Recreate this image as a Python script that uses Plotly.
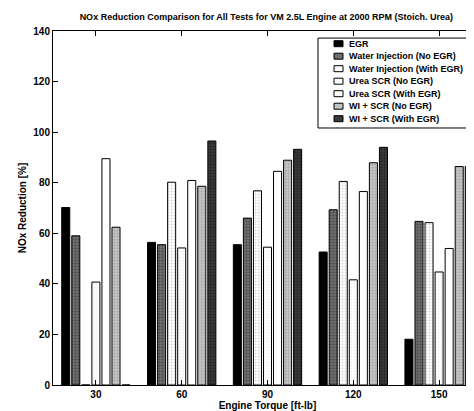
import plotly.graph_objects as go

torque = [30, 60, 90, 120, 150]
tick_labels = ["30", "60", "90", "120", "150"]

egr = [70.2, 56.4, 55.5, 52.6, 18.1]
wi_no_egr = [59.0, 55.5, 66.0, 69.3, 64.7]
wi_with_egr = [0, 80.2, 76.8, 80.5, 64.2]
urea_no_egr = [40.7, 54.2, 54.5, 41.6, 44.7]
urea_with_egr = [89.5, 80.9, 84.5, 76.5, 54.0]
wiscr_no_egr = [62.4, 78.6, 88.9, 87.9, 86.4]
wiscr_with_egr = [0, 96.5, 93.2, 94.0, 86.4]

series_names = [
    "EGR",
    "Water Injection (No EGR)",
    "Water Injection (With EGR)",
    "Urea SCR (No EGR)",
    "Urea SCR (With EGR)",
    "WI + SCR (No EGR)",
    "WI + SCR (With EGR)",
]
series_values = [egr, wi_no_egr, wi_with_egr, urea_no_egr, urea_with_egr, wiscr_no_egr, wiscr_with_egr]
base_colors = ["#000000", "#6e6e6e", "#ffffff", "#ffffff", "#ffffff", "#c4c4c4", "#3a3a3a"]
pattern_fg = [None, "#222222", "#b0b0b0", "#dddddd", None, "#8a8a8a", "#0a0a0a"]

font_family = "Liberation Sans, Arial, sans-serif"

fig = go.Figure()
for name, vals, col, fg in zip(series_names, series_values, base_colors, pattern_fg):
    marker = dict(color=col, line=dict(color="#000000", width=1))
    if fg is not None:
        marker["pattern"] = dict(shape=".", bgcolor=col, fgcolor=fg, size=3, solidity=0.35)
    fig.add_trace(go.Bar(x=torque, y=vals, name=name, marker=marker, showlegend=False))

# Legend box drawn as paper-referenced shapes and text (compact MATLAB-style legend)
box_x0, box_x1, box_y0, box_y1 = 0.6177, 0.986, 0.726, 0.980
fig.add_shape(type="rect", xref="paper", yref="paper", x0=box_x0, x1=box_x1, y0=box_y0, y1=box_y1,
              line=dict(color="black", width=1), fillcolor="white", layer="above")
row_h = 12.5 / 354.0
first_row = (377 - 35.7) / 354.0
sw_x0 = (326 - 45) / 429.0
sw_x1 = (335 - 45) / 429.0
txt_x = (339 - 45) / 429.0
sw_h = 3.0 / 354.0
for i, (name, col) in enumerate(zip(series_names, base_colors)):
    yc = first_row - i * row_h
    fig.add_shape(type="rect", xref="paper", yref="paper", x0=sw_x0, x1=sw_x1,
                  y0=yc - sw_h, y1=yc + sw_h, line=dict(color="black", width=1),
                  fillcolor=col, layer="above")
    fig.add_annotation(xref="paper", yref="paper", x=txt_x, y=yc, text=name, showarrow=False,
                       xanchor="left", yanchor="middle",
                       font=dict(size=9, family=font_family, color="black", weight="bold"))

fig.update_layout(
    width=474, height=411,
    barmode="group", bargap=0.18, bargroupgap=0.2,
    paper_bgcolor="white", plot_bgcolor="white",
    margin=dict(l=45, r=0, t=23, b=34, autoexpand=False),
    font=dict(family=font_family, size=10, color="black", weight="bold"),
    title=dict(text="NOx Reduction Comparison for All Tests for VM 2.5L Engine at 2000 RPM (Stoich. Urea)",
               x=0.545, xanchor="center", y=0.985, yanchor="top",
               font=dict(size=9, family=font_family, weight="bold")),
    showlegend=False,
)
fig.update_xaxes(
    range=[15, 165], tickvals=torque, ticktext=tick_labels,
    showline=True, linecolor="black", linewidth=1, mirror="ticks",
    ticks="inside", ticklen=5, tickcolor="black", showgrid=False, zeroline=False,
    title=dict(text="Engine Torque [ft-lb]", standoff=0, font=dict(size=10)),
    tickfont=dict(size=10),
)
fig.update_yaxes(
    range=[0, 140], dtick=20, tick0=0,
    showline=True, linecolor="black", linewidth=1, mirror="ticks",
    ticks="inside", ticklen=5, tickcolor="black", showgrid=False, zeroline=False,
    title=dict(text="NOx Reduction [%]", standoff=4, font=dict(size=10)),
    tickfont=dict(size=10),
)

fig.write_html("out.html")
